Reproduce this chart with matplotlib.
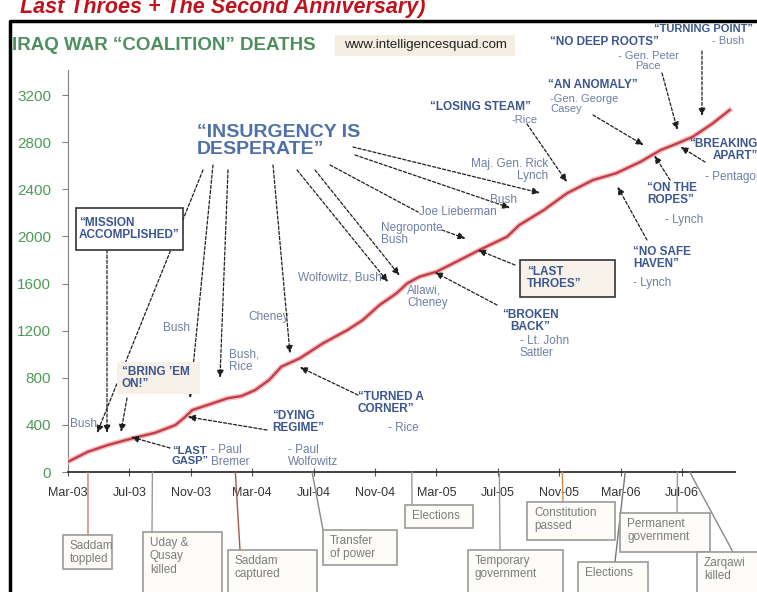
import numpy as np
import matplotlib.pyplot as plt
import matplotlib.patheffects as pe
from matplotlib.patches import Rectangle

plt.rcParams['font.family'] = ['Liberation Sans', 'DejaVu Sans']

# coalition deaths, x = months after 1 Mar 2003
months = [0.0, 1.3, 2.6, 4.2, 5.7, 7.0, 7.6, 8.1, 9.1, 10.4, 11.3, 12.2, 13.1, 13.9,
          15.1, 16.6, 18.2, 19.2, 20.3, 21.4, 22.1, 22.9, 24.0, 25.3, 26.8, 28.6,
          29.4, 31.0, 32.5, 34.2, 35.7, 37.3, 38.6, 39.7, 40.7, 42.0, 43.1]
deaths = [87, 172, 229, 286, 334, 399, 464, 526, 569, 626, 645, 696, 781, 894,
          965, 1092, 1205, 1290, 1418, 1517, 1602, 1658, 1700, 1785, 1885, 1997,
          2097, 2224, 2366, 2479, 2536, 2634, 2733, 2790, 2846, 2960, 3073]

tick_months = [0, 4, 8, 12, 16, 20, 24, 28, 32, 36, 40]
tick_labels = ['Mar-03', 'Jul-03', 'Nov-03', 'Mar-04', 'Jul-04', 'Nov-04',
               'Mar-05', 'Jul-05', 'Nov-05', 'Mar-06', 'Jul-06']
y_ticks = [0, 400, 800, 1200, 1600, 2000, 2400, 2800, 3200]

# events on the time line (month after 1 Mar 2003)
event_labels = ['Saddam\ntoppled', 'Uday &\nQusay\nkilled', 'Saddam\ncaptured',
                'Transfer\nof power', 'Elections', 'Temporary\ngovernment',
                'Constitution\npassed', 'Elections', 'Permanent\ngovernment',
                'Zarqawi\nkilled']
event_months = [1.3, 5.5, 10.9, 15.9, 22.4, 28.1, 32.2, 36.3, 39.7, 40.5]

W, H = 757, 592
QUOTE = '#3b5590'
SPEAK = '#6e7fa3'
EVENT = '#7c7c7c'

fig = plt.figure(figsize=(W / 100, H / 100), dpi=100)
ax = fig.add_axes([68 / W, 1 - 472 / H, (735 - 68) / W, (472 - 70) / H])
ax.set_xlim(0, 43.45)
ax.set_ylim(0, 3413)

ax.plot(months, deaths, color='#c43d48', lw=1.7, zorder=3,
        path_effects=[pe.Stroke(linewidth=3.8, foreground='#f0c2c2'), pe.Normal()])

for s in ['top', 'right']:
    ax.spines[s].set_visible(False)
ax.spines['left'].set_color('#808080')
ax.spines['bottom'].set_color('#333333')
ax.spines['bottom'].set_linewidth(1.3)
ax.set_yticks(y_ticks)
ax.set_yticklabels([str(v) for v in y_ticks], color='#4e9a58', fontsize=11)
ax.set_xticks(tick_months)
ax.set_xticklabels(tick_labels, fontsize=9, color='#333333')
ax.tick_params(axis='y', length=4, color='#808080', pad=8)
ax.tick_params(axis='x', direction='inout', length=6, color='#555555', pad=8)


def fpos(x, y):
    return (x / W, 1 - y / H)


def put(x, y, s, **kw):
    kw.setdefault('va', 'center')
    kw.setdefault('linespacing', 1.1)
    fig.text(*fpos(x, y), s, **kw)


def quote(x, y, s, size=8.5, **kw):
    put(x, y, s, color=QUOTE, fontsize=size, fontweight='bold', **kw)


def who(x, y, s, size=8.5, **kw):
    put(x, y, s, color=SPEAK, fontsize=size, **kw)


def arrow(x0, y0, month, lift):
    target = (month, np.interp(month, months, deaths) + lift)
    ax.annotate('', xy=target, xycoords='data', xytext=fpos(x0, y0),
                textcoords='figure fraction', annotation_clip=False,
                arrowprops=dict(arrowstyle='-|>,head_length=0.45,head_width=0.2',
                                color='#1e1e1e', lw=0.9, ls=(0, (2.5, 1.6)),
                                shrinkA=0, shrinkB=0))


def box(x0, y0, x1, y1, fc='white', ec='#333333', lw=1.2):
    fig.add_artist(Rectangle(fpos(x0, y1), (x1 - x0) / W, (y1 - y0) / H,
                             transform=fig.transFigure, fc=fc, ec=ec, lw=lw))


# title strip (cut at the top in the source) and frame
put(20, 13, 'Last Throes + The Second Anniversary)', va='baseline', color='#c0121c',
    fontsize=15.5, fontweight='bold', fontstyle='italic')
fig.add_artist(plt.Line2D([10 / W, 10 / W, 1], [0, 1 - 21 / H, 1 - 21 / H],
                          color='black', lw=2.5, transform=fig.transFigure))

put(12, 45, 'IRAQ WAR \u201cCOALITION\u201d DEATHS', color='#4f8f5f', fontsize=13.5,
    fontweight='bold')
box(335, 35, 515, 56, fc='#f3ede2', ec='none')
put(425, 45, 'www.intelligencesquad.com', ha='center', color='#222222', fontsize=9.5)

# "insurgency is desperate" and its fan of arrows
put(197, 141, '\u201cINSURGENCY IS\nDESPERATE\u201d', color='#4f70a8', fontsize=14,
    fontweight='bold', linespacing=1.05)
arrow(203, 170, 1.89, 133)
arrow(213, 165, 7.95, 120)
arrow(228, 170, 9.9, 195)
arrow(273, 165, 14.46, 80)
arrow(297, 170, 20.85, 145)
arrow(315, 170, 21.6, 127)
arrow(355, 155, 28.8, 220)
arrow(353, 147, 30.75, 165)
ax.annotate('', xy=fpos(418, 212), xycoords='figure fraction', xytext=fpos(330, 165),
            textcoords='figure fraction', annotation_clip=False,
            arrowprops=dict(arrowstyle='-', color='#1e1e1e', lw=0.9,
                            ls=(0, (2.5, 1.6)), shrinkA=0, shrinkB=0))

# left part
box(76, 208, 183, 250)
quote(79, 229, '\u201cMISSION\nACCOMPLISHED\u201d')
arrow(107, 250, 2.54, 105)
box(117, 362, 200, 394, fc='#f6f0e6', ec='none')
quote(122, 378, '\u201cBRING \u2019EM\nON!\u201d')
arrow(127, 398, 3.45, 80)
who(70, 424, 'Bush')
quote(172, 456, '\u201cLAST\nGASP\u201d', size=8)
who(211, 456, '- Paul\nBremer')
arrow(170, 448, 4.1, 15)
who(163, 328, 'Bush')
who(229, 361, 'Bush,\nRice')
who(248, 317, 'Cheney')
quote(272, 422, '\u201cDYING\nREGIME\u201d')
who(288, 456, '- Paul\nWolfowitz')
arrow(267, 430, 7.8, -20)
quote(358, 403, '\u201cTURNED A\nCORNER\u201d')
who(388, 428, '- Rice')
arrow(358, 395, 15.1, -75)

# middle
who(298, 278, 'Wolfowitz, Bush')
who(407, 297, 'Allawi,\nCheney')
who(381, 234, 'Negroponte,\nBush')
arrow(442, 230, 25.9, 157)
who(419, 212, 'Joe Lieberman')
who(490, 200, 'Bush')
who(548, 170, 'Maj. Gen. Rick\nLynch', ha='right', multialignment='right')
quote(530, 321, '\u201cBROKEN\nBACK\u201d', ha='center')
who(520, 347, '- Lt. John\nSattler')
arrow(497, 305, 23.9, 0)
box(520, 260, 615, 297, fc='#f7f3ea')
quote(527, 278, '\u201cLAST\nTHROES\u201d')
arrow(515, 265, 26.7, 7)

# right part
quote(430, 107, '\u201cLOSING STEAM\u201d')
who(512, 120, '-Rice', size=8)
arrow(527, 124, 32.5, 96)
quote(548, 85, '\u201cAN ANOMALY\u201d')
who(550, 104, '-Gen. George\nCasey', size=8, linespacing=1.0)
arrow(593, 115, 37.5, 126)
quote(550, 42, '\u201cNO DEEP ROOTS\u201d')
who(648, 61, '- Gen. Peter\nPace', size=8, ha='center', linespacing=1.05)
arrow(662, 73, 39.7, 114)
quote(654, 29, '\u201cTURNING POINT\u201d', size=8)
who(712, 41, '- Bush', size=8)
arrow(702, 51, 41.3, 124)
quote(758, 150, '\u201cBREAKING\nAPART\u201d', ha='right', multialignment='right')
who(705, 177, '- Pentagon')
arrow(705, 162, 39.9, -40)
quote(647, 194, '\u201cON THE\nROPES\u201d')
who(665, 220, '- Lynch')
arrow(670, 180, 38.2, -15)
quote(633, 258, '\u201cNO SAFE\nHAVEN\u201d')
who(633, 283, '- Lynch')
arrow(647, 240, 35.8, -120)

# event boxes below the time axis: (left, top, right, bottom) in pixels, connector colour
event_boxes = [(63, 535, 112, 569), (143, 532, 222, 600), (228, 550, 317, 600),
               (323, 530, 397, 565), (405, 505, 473, 528), (468, 550, 563, 600),
               (527, 502, 615, 540), (578, 562, 648, 600), (620, 513, 710, 552),
               (697, 552, 762, 600)]
event_tops = [88, 152, 240, 323, 412, 500, 563, 615, 677, 733]
event_colors = ['#c87a6a', '#999999', '#a05a4a', '#888888', '#999999', '#999999',
                '#d08a50', '#777777', '#999999', '#888888']
for lab, m, (x0, y0, x1, y1), xt, c in zip(event_labels, event_months, event_boxes,
                                          event_tops, event_colors):
    ax.annotate('', xy=fpos(xt, y0), xycoords='figure fraction', xytext=(m, 0),
                textcoords='data', annotation_clip=False,
                arrowprops=dict(arrowstyle='-', color=c, lw=1, shrinkA=0, shrinkB=0))
    box(x0, y0, x1, y1, fc='#fdfcf9', ec='#9a9a9a', lw=1.2)
    fig.text(*fpos(x0 + 7, y0 + 5), lab, color=EVENT, fontsize=8.5, va='top',
             linespacing=1.15)

fig.savefig('out.png', dpi=100)
